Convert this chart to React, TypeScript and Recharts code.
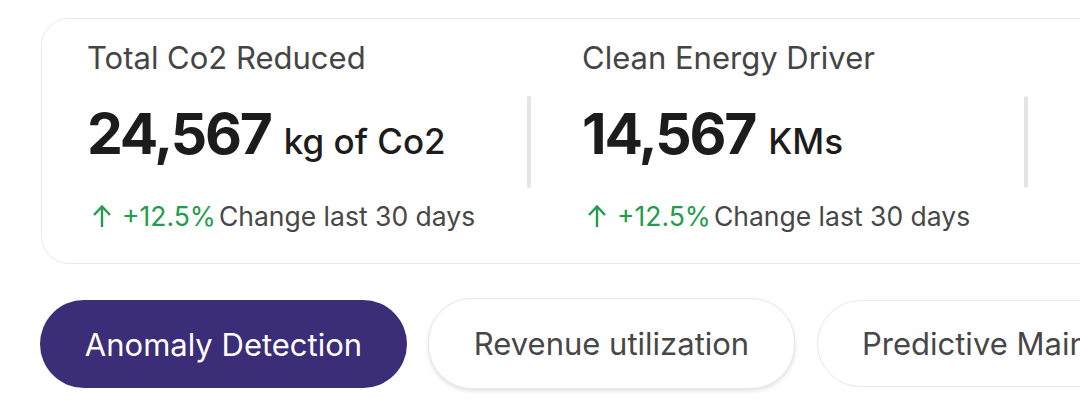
import React from "react";
import { Surface, Curve } from "recharts";

const METRIC_LABELS = ["Total Co2 Reduced", "Clean Energy Driver"];
const METRIC_VALUES = [24567, 14567];
const METRIC_UNITS = ["kg of Co2", "KMs"];
const METRIC_CHANGES = [12.5, 12.5];
const CHANGE_NOTE = "Change last 30 days";
const TABS = ["Anomaly Detection", "Revenue utilization", "Predictive Maintenance"];
const ACTIVE_TAB = 0;

const FONT = "Inter, 'Noto Sans', sans-serif";
const GREEN = "#1f9d4c";
const PURPLE = "#3b2d78";

const fmt = new Intl.NumberFormat("en-US");

function UpArrow() {
  return (
    <Surface width={20} height={24} viewBox={{ x: 0, y: 0, width: 20, height: 24 }}>
      <Curve
        type="linear"
        points={[
          { x: 10, y: 23 },
          { x: 10, y: 3 },
        ]}
        stroke={GREEN}
        strokeWidth={2.4}
        fill="none"
      />
      <Curve
        type="linear"
        points={[
          { x: 2, y: 11 },
          { x: 10, y: 2.5 },
          { x: 18, y: 11 },
        ]}
        stroke={GREEN}
        strokeWidth={2.4}
        fill="none"
      />
    </Surface>
  );
}

function Metric({ i }: { i: number }) {
  const left = 89 + i * 495;
  return (
    <>
      <div
        style={{
          position: "absolute",
          left: left - 2,
          top: 39,
          fontSize: 31,
          lineHeight: "38px",
          color: "#454545",
          whiteSpace: "nowrap",
        }}
      >
        {METRIC_LABELS[i]}
      </div>
      <div
        style={{
          position: "absolute",
          left: left - 2,
          top: 99,
          lineHeight: "70px",
          whiteSpace: "nowrap",
          color: "#1c1c1c",
        }}
      >
        <span style={{ fontSize: 57, fontWeight: 700, letterSpacing: -2.2 }}>
          {fmt.format(METRIC_VALUES[i])}
        </span>
        <span style={{ fontSize: 35, fontWeight: 500, marginLeft: 13 }}>
          {METRIC_UNITS[i]}
        </span>
      </div>
      <div
        style={{
          position: "absolute",
          left: left + 3,
          top: 200,
          display: "flex",
          alignItems: "center",
          fontSize: 26.5,
          lineHeight: "32px",
          whiteSpace: "nowrap",
        }}
      >
        <UpArrow />
        <span style={{ color: GREEN, marginLeft: 10 }}>+{METRIC_CHANGES[i]}%</span>
        <span style={{ color: "#474747", marginLeft: 3 }}>{CHANGE_NOTE}</span>
      </div>
      <div
        style={{
          position: "absolute",
          left: 527 + i * 497,
          top: 96,
          width: 4,
          height: 92,
          borderRadius: 2,
          background: "#e4e4e4",
        }}
      />
    </>
  );
}

const TAB_BOXES = [
  { left: 40, top: 300, width: 367, height: 88 },
  { left: 428, top: 298, width: 367, height: 91 },
  { left: 817, top: 300, width: 400, height: 87 },
];

export default function App() {
  return (
    <div
      style={{
        position: "fixed",
        left: 0,
        top: 0,
        width: 1080,
        height: 407,
        overflow: "hidden",
        background: "#ffffff",
        fontFamily: FONT,
      }}
    >
      <div
        style={{
          position: "absolute",
          left: 41,
          top: 18,
          width: 1100,
          height: 246,
          boxSizing: "border-box",
          border: "1.5px solid #e7e9ec",
          borderRadius: 28,
          background: "#fff",
        }}
      />
      {METRIC_LABELS.map((_, i) => (
        <Metric key={i} i={i} />
      ))}
      {TABS.map((t, i) => {
        const b = TAB_BOXES[i];
        const active = i === ACTIVE_TAB;
        return (
          <div
            key={t}
            style={{
              position: "absolute",
              left: b.left,
              top: b.top,
              width: b.width,
              height: b.height,
              boxSizing: "border-box",
              borderRadius: 44,
              background: active ? PURPLE : "#fff",
              border: active ? "none" : "1.5px solid #e8e8e8",
              boxShadow: active ? "none" : i === 1 ? "0 2px 4px rgba(0,0,0,0.12)" : "none",
              color: active ? "#ffffff" : "#474747",
              fontSize: 31,
              display: "flex",
              alignItems: "center",
              paddingLeft: i === 2 ? 44 : 0,
              justifyContent: i === 2 ? "flex-start" : "center",
              whiteSpace: "nowrap",
            }}
          >
            {t}
          </div>
        );
      })}
    </div>
  );
}
